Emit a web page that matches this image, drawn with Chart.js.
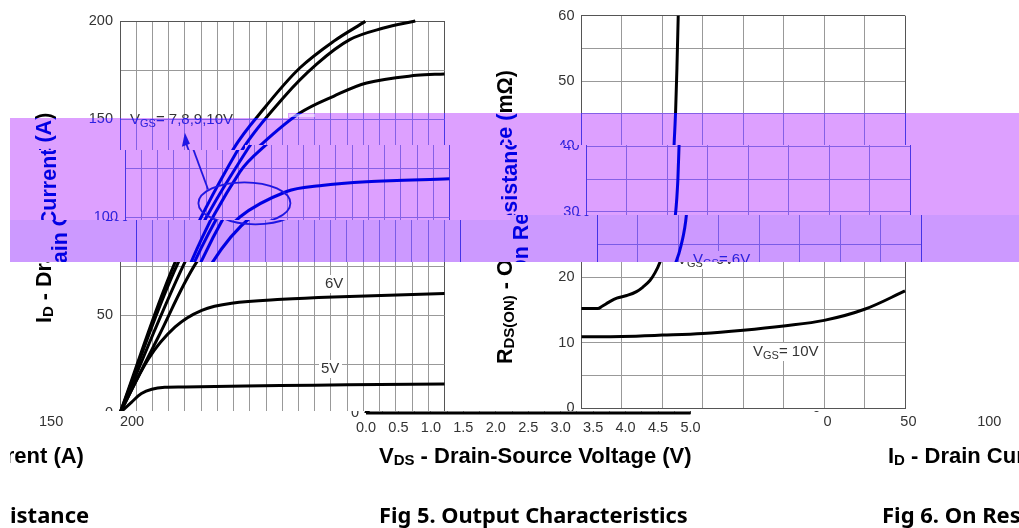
<!DOCTYPE html>
<html>
<head>
<meta charset="utf-8">
<title>Fig 5 and Fig 6</title>
<script src="https://cdn.jsdelivr.net/npm/chart.js@4"></script>
<style>
html, body { margin: 0; padding: 0; background: #fff; }
#page { position: relative; width: 1019px; height: 528px; overflow: hidden; background: #fff; }
canvas { position: absolute; left: 0; top: 0; }
.band { position: absolute; }
</style>
</head>
<body>
<div id="page">
<canvas id="outputChart" width="1019" height="528"></canvas>
<canvas id="resistanceChart" width="1019" height="528"></canvas>
</div>
<script>
// Fig 5 - drain current (A) against drain-source voltage (V)
var vds4 = [0, 5];
var id4 = [0, 0];
var vds5 = [0, 0.18, 0.33, 0.49, 0.69, 1, 1.93, 3, 4, 5];
var id5 = [0, 5.6, 9.9, 12.1, 13.1, 13.3, 13.8, 14.2, 14.5, 14.8];
var vds6 = [0, 0.44, 0.85, 1.26, 1.72, 2.5, 3.29, 5];
var id6 = [0, 27.7, 43.9, 52.4, 56, 58, 59.2, 61];
var vds7 = [0, 0.59, 1.18, 1.77, 2.49, 3, 3.72, 5];
var id7 = [0, 38.8, 77, 100, 113, 116, 118, 119.5];
var vds8 = [0, 1, 1.77, 2.18, 2.77, 3.29, 3.8, 4.57, 5];
var id8 = [0, 77, 123, 137, 153, 161.6, 168.4, 172.3, 173];
var vds9 = [0, 0.9, 1.9, 2.52, 3.03, 3.54, 4.06, 4.55];
var id9 = [0, 77, 135.2, 161, 178, 190.5, 196.4, 200];
var vds10 = [0, 0.85, 1.74, 2.26, 2.77, 3.29, 3.78];
var id10 = [0, 77, 134.3, 157, 176, 189.6, 199.8];

// Fig 6 - on resistance (mOhm) against drain current (A)
var idRes6 = [0, 10, 13, 17, 21.8, 28, 34, 38, 42.3, 45.5, 48.5, 51.5, 55, 56.5, 57.2, 58.2, 59, 59.8];
var rds6 = [15.2, 15.2, 15.6, 16.2, 16.8, 17.2, 17.8, 18.5, 19.5, 20.7, 22.3, 24.7, 29.6, 35, 40, 45.5, 52, 60];
var idRes10 = [0, 25, 50, 75, 100, 125, 150, 175, 200];
var rds10 = [10.9, 10.95, 11.15, 11.4, 11.9, 12.55, 13.4, 15.1, 17.9];

var tickFont = { family: 'Liberation Sans', size: 14.5 };
var titleFont = 'bold 22px "Liberation Sans"';
var sideFont = 'bold 21.5px "Liberation Sans"';
var titleSubFont = 'bold 15px "Liberation Sans"';
var labelFont = '15px "Liberation Sans"';
var subFont = '11px "Liberation Sans"';
var bandMain = '#dda0ff';
var bandLow = '#cc99ff';
var bandInk = '#0000e6';

function pts(xs, ys) {
    var out = [];
    for (var i = 0; i < xs.length; i++) {
        out.push({ x: xs[i], y: ys[i] });
    }
    return out;
}

function curve(xs, ys) {
    return {
        data: pts(xs, ys),
        borderColor: '#000',
        borderWidth: 3,
        pointRadius: 0,
        tension: 0.35,
        clip: 3
    };
}

function steepCurve(xs, ys) {
    var d = curve(xs, ys);
    d.tension = 0;
    d.cubicInterpolationMode = 'monotone';
    return d;
}

// draws text made of normal and subscript runs
function runs(ctx, x, y, parts, font, smallFont, drop) {
    ctx.textAlign = 'left';
    ctx.textBaseline = 'alphabetic';
    for (var i = 0; i < parts.length; i++) {
        var sub = i % 2 === 1;
        ctx.font = sub ? smallFont : font;
        ctx.fillText(parts[i], x, sub ? y + drop : y);
        x += ctx.measureText(parts[i]).width;
    }
}

function whiteLabel(ctx, x, y, w, parts) {
    ctx.fillStyle = '#fff';
    ctx.fillRect(x - 2, y - 13, w + 4, 18);
    ctx.fillStyle = '#333';
    runs(ctx, x, y, parts, labelFont, subFont, 3);
}

// the picture has rows of pixels moved sideways, this does the same to a canvas
function moveRows(ctx, y0, y1, x0, dx) {
    var c = ctx.canvas;
    var tmp = document.createElement('canvas');
    tmp.width = c.width;
    tmp.height = y1 - y0;
    tmp.getContext('2d').drawImage(c, 0, y0, c.width, y1 - y0, 0, 0, c.width, y1 - y0);
    ctx.save();
    ctx.beginPath();
    ctx.rect(x0, y0, c.width - x0, y1 - y0);
    ctx.clip();
    ctx.clearRect(x0, y0, c.width - x0, y1 - y0);
    ctx.drawImage(tmp, dx, y0);
    ctx.drawImage(tmp, dx - c.width, y0);
    ctx.restore();
}

// bottom rows wrap round, and the first 10 columns stay blank
function wrapBottom(ctx) {
    moveRows(ctx, 411, 528, 0, 246);
    ctx.clearRect(0, 411, 10, 117);
}

var outputExtras = {
    id: 'outputExtras',
    afterDraw: function (chart) {
        var ctx = chart.ctx;
        var x = chart.scales.x;
        var y = chart.scales.y;
        ctx.save();

        // ring round the 7-10V curves and its arrow
        ctx.strokeStyle = '#222';
        ctx.lineWidth = 1.8;
        ctx.beginPath();
        ctx.ellipse(x.getPixelForValue(1.84), y.getPixelForValue(107), 46, 21, 0, 0, Math.PI * 2);
        ctx.stroke();
        var ax = x.getPixelForValue(1.28);
        var ay = y.getPixelForValue(114);
        var bx = x.getPixelForValue(1.0);
        var by = y.getPixelForValue(143);
        ctx.beginPath();
        ctx.moveTo(ax, ay);
        ctx.lineTo(bx + 1, by + 10);
        ctx.stroke();
        ctx.fillStyle = '#222';
        ctx.beginPath();
        ctx.moveTo(bx, by);
        ctx.lineTo(bx - 3, by + 14);
        ctx.lineTo(bx + 5, by + 11);
        ctx.closePath();
        ctx.fill();

        whiteLabel(ctx, 325, 288, 19, ['6V']);
        whiteLabel(ctx, 321, 373, 19, ['5V']);
        ctx.fillStyle = '#333';
        runs(ctx, 130, 124, ['V', 'GS', '= 7,8,9,10V'], labelFont, subFont, 3);

        // axis titles and caption
        ctx.fillStyle = '#000';
        runs(ctx, 133, 463, ['V', 'DS', ' - Drain-Source Voltage (V)'], titleFont, titleSubFont, 2);
        ctx.font = 'bold 21.8px "Noto Sans"';
        ctx.fillText('Fig 5. Output Characteristics', 133, 523);
        ctx.save();
        ctx.translate(51, 323);
        ctx.rotate(-Math.PI / 2);
        runs(ctx, 0, 0, ['I', 'D', ' - Drain Current (A)'], sideFont, titleSubFont, 2);
        ctx.restore();
        ctx.restore();

        moveRows(ctx, 150, 220, 0, 5);
        moveRows(ctx, 145, 150, 245, 5);
        moveRows(ctx, 220, 262, 0, 16);
        wrapBottom(ctx);
    }
};

var resistanceExtras = {
    id: 'resistanceExtras',
    afterDraw: function (chart) {
        var ctx = chart.ctx;
        ctx.save();
        whiteLabel(ctx, 753, 356, 65, ['V', 'GS', '= 10V']);
        whiteLabel(ctx, 677, 264, 55, ['V', 'GS', '= 6V']);

        ctx.fillStyle = '#000';
        runs(ctx, 642, 463, ['I', 'D', ' - Drain Current (A)'], titleFont, titleSubFont, 2);
        ctx.font = 'bold 22px "Noto Sans"';
        // the caption breaks at the image edge, the rest lands right after the blank columns
        ctx.fillText('Fig 6. On Res', 636, 523);
        ctx.fillText('istance', 783, 523);
        ctx.save();
        ctx.translate(512, 364);
        ctx.rotate(-Math.PI / 2);
        runs(ctx, 0, 0, ['R', 'DS(ON)', ' - On Resistance (m\u03a9)'], sideFont, titleSubFont, 2);
        ctx.restore();
        ctx.restore();

        moveRows(ctx, 145, 215, 0, 5);
        moveRows(ctx, 215, 262, 0, 16);
        wrapBottom(ctx);
    }
};

function axisOptions(min, max, step, labelStep, digits, fixedSize, isX, pad) {
    return {
        type: 'linear',
        min: min,
        max: max,
        afterFit: function (s) {
            if (isX) { s.height = fixedSize; } else { s.width = fixedSize; }
        },
        border: { color: '#555', width: 1 },
        grid: {
            drawTicks: false,
            lineWidth: 1,
            color: function (c) {
                return c.tick.value === max ? '#555' : '#999';
            }
        },
        ticks: {
            stepSize: step,
            autoSkip: false,
            maxRotation: 0,
            padding: pad,
            color: '#333',
            font: tickFont,
            callback: function (v) {
                var q = v / labelStep;
                if (Math.abs(q - Math.round(q)) > 0.001) return '';
                return digits ? v.toFixed(digits) : String(v);
            }
        }
    };
}

function buildChart(id, datasets, x, y, box, plugin) {
    return new Chart(document.getElementById(id).getContext('2d'), {
        type: 'line',
        data: { datasets: datasets },
        options: {
            responsive: false,
            animation: false,
            devicePixelRatio: 1,
            parsing: false,
            layout: {
                autoPadding: false,
                padding: { left: 0, top: box.top, right: 1019 - box.right, bottom: 0 }
            },
            plugins: { legend: { display: false }, tooltip: { enabled: false } },
            scales: {
                x: axisOptions(x.min, x.max, x.step, x.labelStep, x.digits, 528 - box.bottom, true, x.pad),
                y: axisOptions(y.min, y.max, y.step, y.labelStep, 0, box.left, false, 7)
            }
        },
        plugins: [plugin]
    });
}

buildChart('outputChart',
    [curve(vds4, id4), curve(vds5, id5), curve(vds6, id6), curve(vds7, id7), curve(vds8, id8), curve(vds9, id9), curve(vds10, id10)],
    { min: 0, max: 5, step: 0.25, labelStep: 0.5, digits: 1, pad: 6 },
    { min: 0, max: 200, step: 25, labelStep: 50 },
    { left: 120, top: 21, right: 444.5, bottom: 413 },
    outputExtras);

buildChart('resistanceChart',
    [steepCurve(idRes6, rds6), curve(idRes10, rds10)],
    { min: 0, max: 200, step: 25, labelStep: 50, digits: 0, pad: 5 },
    { min: 0, max: 60, step: 5, labelStep: 10 },
    { left: 581.5, top: 15, right: 905, bottom: 408 },
    resistanceExtras);

// coloured stripes over both charts: white goes to the stripe colour, black goes to blue
function band(x, y, w, h, colour) {
    var page = document.getElementById('page');
    var modes = [['multiply', colour], ['lighten', bandInk]];
    for (var i = 0; i < modes.length; i++) {
        var d = document.createElement('div');
        d.className = 'band';
        d.style.left = x + 'px';
        d.style.top = y + 'px';
        d.style.width = w + 'px';
        d.style.height = h + 'px';
        d.style.background = modes[i][1];
        d.style.mixBlendMode = modes[i][0];
        page.appendChild(d);
    }
}

band(10, 118, 278, 102, bandMain);
band(288, 113, 222, 107, bandMain);
band(510, 113, 509, 102, bandMain);
band(10, 220, 500, 42, bandLow);
band(510, 215, 509, 47, bandLow);

// small pale smear at the corner of the upper stripe
var smear = document.createElement('div');
smear.className = 'band';
smear.style.cssText = 'left:289px;top:114px;width:26px;height:3px;background:rgba(255,255,255,0.5)';
document.getElementById('page').appendChild(smear);
</script>
</body>
</html>
